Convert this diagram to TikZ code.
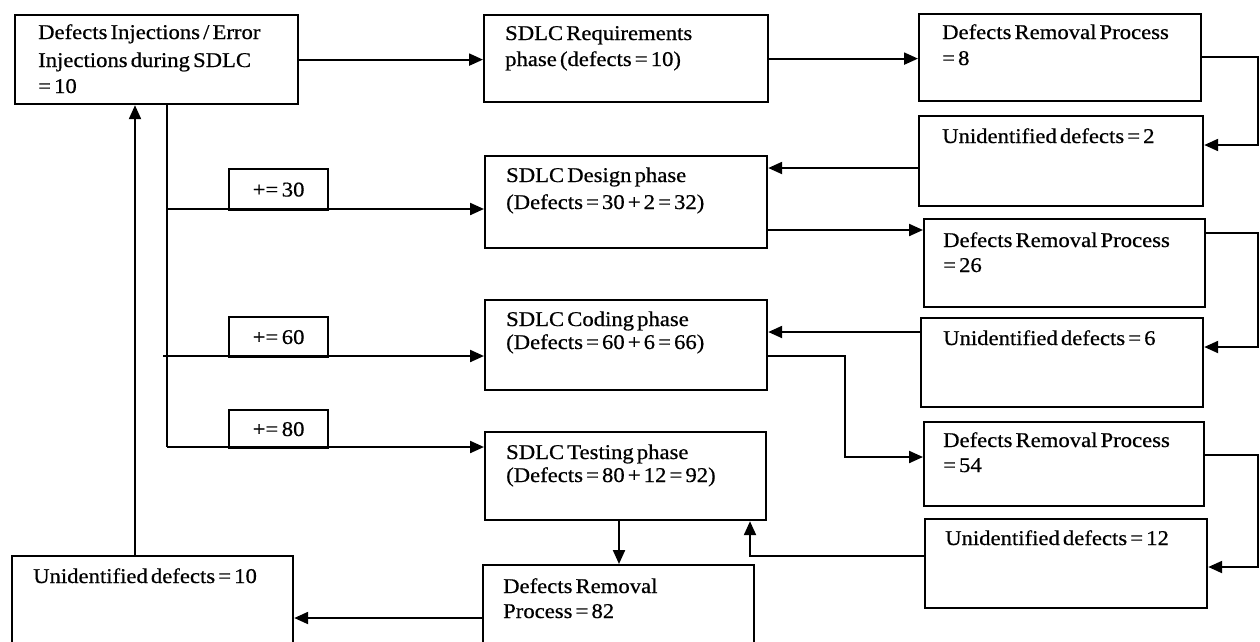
\documentclass[tikz,border=0pt]{standalone}
\usepackage{fontspec}
\setmainfont{Liberation Serif}[FakeStretch=1.08, WordSpace=0.55, FakeBold=0.6]
\usetikzlibrary{arrows.meta,calc}
\tikzset{
  box/.style={draw, line width=2.2pt, inner sep=0pt, anchor=north west},
  txt/.style={inner sep=0pt, anchor=base west, font=\fontsize{21}{24}\selectfont},
  ptxt/.style={inner sep=0pt, font=\fontsize{21}{24}\selectfont},
  conn/.style={line width=2.2pt},
  arr/.style={line width=2.2pt, -{Triangle[length=14pt,width=12pt]}},
}
\newcommand\tline[4]{\node[txt] (#1) at (#2,#3) {#4};}
\begin{document}
\begin{tikzpicture}[x=1pt,y=-1pt]
\useasboundingbox (0,0) rectangle (1260,641);
\clip (0,0) rectangle (1260,641);
% boxes
\node[box, minimum width=283pt, minimum height=89pt] (inj) at (14,14) {};
\node[box, minimum width=284pt, minimum height=87pt] (req) at (483,14) {};
\node[box, minimum width=282pt, minimum height=87pt] (drpA) at (918,13) {};
\node[box, minimum width=284pt, minimum height=90pt] (udA) at (918,115) {};
\node[box, minimum width=282pt, minimum height=92pt] (des) at (484,155) {};
\node[box, minimum width=281pt, minimum height=88pt] (drpB) at (923,218) {};
\node[box, minimum width=282pt, minimum height=89pt] (udB) at (920,317) {};
\node[box, minimum width=282pt, minimum height=90pt] (cod) at (484,299) {};
\node[box, minimum width=280pt, minimum height=84pt] (drpC) at (923,421) {};
\node[box, minimum width=282pt, minimum height=89pt] (udC) at (924,518) {};
\node[box, minimum width=281pt, minimum height=88pt] (tst) at (484,431) {};
\node[box, minimum width=271pt, minimum height=90pt] (drpD) at (482,564) {};
\node[box, minimum width=281pt, minimum height=95pt] (udD) at (11,555) {};
\node[box, minimum width=99pt, minimum height=41pt] (p30) at (228,168) {};
\node[box, minimum width=99pt, minimum height=40pt] (p60) at (228,316) {};
\node[box, minimum width=99pt, minimum height=38pt] (p80) at (228,409) {};
% texts
\tline{injt1}{38}{39}{Defects Injections / Error}
\tline{injt2}{38}{67}{Injections during SDLC}
\tline{injt3}{38}{93}{= 10}
\tline{reqt1}{505}{40}{SDLC Requirements}
\tline{reqt2}{505}{66}{phase (defects = 10)}
\tline{drpAt1}{942}{39}{Defects Removal Process}
\tline{drpAt2}{942}{65}{= 8}
\tline{udAt}{942}{143}{Unidentified defects = 2}
\tline{dest1}{506}{182}{SDLC Design phase}
\tline{dest2}{506}{209}{(Defects = 30 + 2 = 32)}
\tline{drpBt1}{943}{247}{Defects Removal Process}
\tline{drpBt2}{943}{272}{= 26}
\tline{codt1}{506}{326}{SDLC Coding phase}
\tline{codt2}{506}{349}{(Defects = 60 + 6 = 66)}
\tline{udBt}{943}{345}{Unidentified defects = 6}
\tline{drpCt1}{943}{447}{Defects Removal Process}
\tline{drpCt2}{943}{472}{= 54}
\tline{udCt}{945}{545}{Unidentified defects = 12}
\tline{tstt1}{506}{459}{SDLC Testing phase}
\tline{tstt2}{506}{482}{(Defects = 80 + 12 = 92)}
\tline{udDt}{33}{583}{Unidentified defects = 10}
\tline{drpDt1}{503}{593}{Defects Removal}
\tline{drpDt2}{503}{618}{Process = 82}
\node[ptxt] (p30t) at (p30) {+=\,30};
\node[ptxt] (p60t) at (p60) {+=\,60};
\node[ptxt] (p80t) at (p80) {+=\,80};
% coordinates
\coordinate (tr1) at (167,209);
\coordinate (tr2) at (163,356);
\coordinate (tr3) at (167,447);
\coordinate (rA) at (1258,57);
\coordinate (rB) at (1258,233);
\coordinate (rC) at (1258,455);
\coordinate (mC) at (845,356);
% connectors
\draw[arr] (inj.east) -- (inj.east -| req.west);
\draw[arr] (req.east) -- (req.east -| drpA.west);
\draw[arr] (drpA.east |- rA) -- (rA) |- (udA.east |- 0,145);
\draw[arr] (udA.west |- 0,168) -- (des.east |- 0,168);
\draw[arr] (des.east |- 0,230) -- (drpB.west |- 0,230);
\draw[arr] (drpB.east |- rB) -- (rB) |- (udB.east |- 0,347);
\draw[arr] (udB.west |- 0,332) -- (cod.east |- 0,332);
\draw[arr] (cod.east |- mC) -- (mC) |- (drpC.west |- 0,457);
\draw[arr] (drpC.east |- rC) -- (rC) |- (udC.east |- 0,567);
\draw[arr] (udC.west |- 0,556) -| (tst.south -| 750,0);
\draw[arr] (tst.south -| 619,0) -- (drpD.north -| 619,0);
\draw[arr] (drpD.west |- 0,618) -- (udD.east |- 0,618);
\draw[arr] (udD.north -| 135,0) -- (inj.south -| 135,0);
\draw[conn] (inj.south -| tr1) -- (tr3);
\draw[arr] (tr1) -- (tr1 -| des.west);
\draw[arr] (tr2) -- (tr2 -| cod.west);
\draw[arr] (tr3) -- (tr3 -| tst.west);
\end{tikzpicture}
\end{document}
